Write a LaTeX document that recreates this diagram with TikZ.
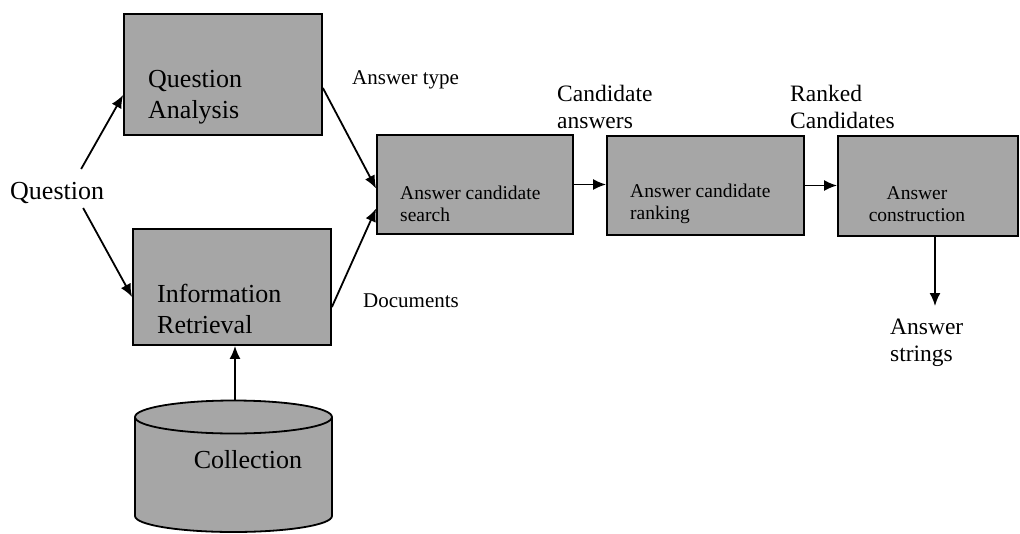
\documentclass[tikz,border=0pt]{standalone}
\usepackage{fontspec}
\setmainfont{Liberation Serif}
\usetikzlibrary{arrows.meta,calc}
\definecolor{boxgray}{RGB}{166,166,166}

\begin{document}
\begin{tikzpicture}[x=1pt,y=-1pt,
  stage/.style={draw=black,line width=1.8pt,fill=boxgray,rectangle,inner sep=0pt},
  bigtext/.style={inner sep=0pt,align=left,font=\fontsize{26}{31}\selectfont},
  smalltext/.style={inner sep=0pt,align=left,font=\fontsize{21}{26}\selectfont},
  midtext/.style={inner sep=0pt,align=left,font=\fontsize{23.5}{27}\selectfont},
  innertext/.style={inner sep=0pt,font=\fontsize{19.5}{22}\selectfont},
  flow/.style={line width=1.8pt,-{Latex[length=13pt,width=11pt]}}]

\useasboundingbox (0,0) rectangle (1020,533);

% processing stages
\node[stage,minimum width=198pt,minimum height=121pt] (qa) at (223,74.5) {};
\node[stage,minimum width=198pt,minimum height=116pt] (ir) at (232,287) {};
\node[stage,minimum width=196pt,minimum height=99pt] (search) at (475,184.5) {};
\node[stage,minimum width=197pt,minimum height=99pt] (rank) at (705.5,185.5) {};
\node[stage,minimum width=180pt,minimum height=100pt] (cons) at (928,186) {};

% document collection (cylinder)
\fill[boxgray] (135,417) -- (135,516)
  arc[start angle=180,end angle=360,x radius=98.5pt,y radius=16pt]
  -- (332,417) -- cycle;
\fill[boxgray] (233.5,417) ellipse[x radius=98.5pt,y radius=16.5pt];
\draw[line width=1.8pt] (135,417) -- (135,516)
  arc[start angle=180,end angle=360,x radius=98.5pt,y radius=16pt]
  -- (332,417);
\draw[line width=1.8pt] (233.5,417) ellipse[x radius=98.5pt,y radius=16.5pt];
\coordinate (colltop) at (235,400.5);
\node[bigtext] (coll) at (248,460) {Collection};

% stage labels
\node[bigtext,anchor=west] (qatext) at (148,97.5) {Question\\Analysis};
\node[bigtext,anchor=west] (irtext) at (157,309) {Information\\Retrieval};
\node[innertext,align=left,anchor=west] (searchtext) at (400,204) {Answer candidate\\search};
\node[innertext,align=left,anchor=west] (ranktext) at (630,204) {Answer candidate\\ranking};
\node[innertext,align=center] (constext) at (917,204) {Answer\\construction};

% free labels
\node[bigtext,anchor=west] (ql) at (10,193) {Question};
\node[smalltext,anchor=west] (atype) at (352,80) {Answer type};
\node[smalltext,anchor=west] (docs) at (363,301) {Documents};
\node[midtext,anchor=west] (cand) at (557,107) {Candidate\\answers};
\node[midtext,anchor=west] (ranked) at (790,107) {Ranked\\Candidates};
\node[midtext,anchor=west] (strings) at (890,343) {Answer\\strings};
\coordinate (out) at (935,306);

% connectors
\draw[flow] ($(ql.center)+(24,-24)$) -- ($(qa.west)+(0,20.5)$);
\draw[flow] ($(ql.center)+(26,15)$) -- ($(ir.west)+(0,10)$);
\draw[flow] ($(qa.east)+(0,13.5)$) -- ($(search.west)+(0,4)$);
\draw[flow] ($(ir.east)+(0,20)$) -- ($(search.west)+(0,24)$);
\draw[flow] (colltop) -- ($(ir.south)+(3,0)$);
\draw[flow] (search.east) -- (search.east -| rank.west);
\draw[flow] (rank.east) -- (rank.east -| cons.west);
\draw[flow] (cons.south -| out) -- (out);

\end{tikzpicture}
\end{document}
